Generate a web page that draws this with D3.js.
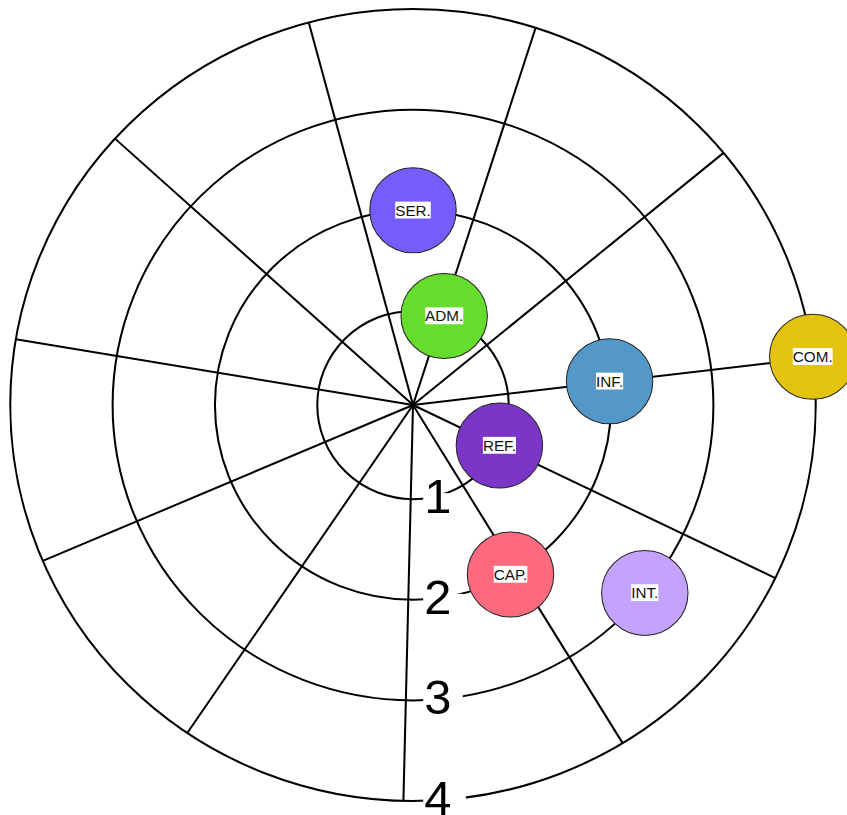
<!DOCTYPE html>
<html>
<head>
<meta charset="utf-8">
<script src="https://cdn.jsdelivr.net/npm/d3@7"></script>
<style>
  html, body { margin: 0; padding: 0; background: #fff; }
  svg { display: block; }
</style>
</head>
<body>
<svg id="chart" width="847" height="815"></svg>
<script>
// ---- data ----
const categories = ["SER.", "ADM.", "INF.", "COM.", "REF.", "CAP.", "INT."];
const levels     = [2, 1, 2, 4, 1, 2, 3];          // radial value
const angles     = [0, 19, 83, 83, 115.5, 150.5, 129.5]; // degrees clockwise from north
const colors     = ["#765cfb", "#66dd2c", "#5398c8", "#e3c30e", "#7b36c8", "#fd6a7e", "#c3a3fd"];
const ringTicks  = [1, 2, 3, 4];
const spokeCount = 11;
const spokeOffset = -15; // degrees

// ---- layout ----
const cx = 413, cy = 405;
const xStretch = 1.017;
const bubbleR = 42.5;

const svg = d3.select("#chart");
const g = svg.append("g").attr("transform", `translate(${cx},${cy}) scale(${xStretch},1)`);

const r = d3.scaleLinear().domain([0, 4]).range([-6.5, 396]);
const a = d3.scaleLinear().domain([0, 360]).range([0, 2 * Math.PI]);

const spokes = d3.range(spokeCount).map(i => spokeOffset + i * 360 / spokeCount);

// rings
g.selectAll("circle.ring")
  .data(ringTicks)
  .join("circle")
  .attr("class", "ring")
  .attr("r", d => r(d))
  .attr("fill", "none")
  .attr("stroke", "#000")
  .attr("stroke-width", 2);

// spokes
g.selectAll("line.spoke")
  .data(spokes)
  .join("line")
  .attr("class", "spoke")
  .attr("x1", 0).attr("y1", 0)
  .attr("x2", d => r(4) * Math.sin(a(d)))
  .attr("y2", d => -r(4) * Math.cos(a(d)))
  .attr("stroke", "#000")
  .attr("stroke-width", 2);

// ring labels
const tickG = g.selectAll("g.tick")
  .data(ringTicks)
  .join("g")
  .attr("class", "tick")
  .attr("transform", d => `translate(11,${r(d)})`);

tickG.append("rect")
  .attr("x", -1).attr("y", -6)
  .attr("width", d => d === 4 ? 42 : 39)
  .attr("height", 12)
  .attr("fill", "#fff");

tickG.append("text")
  .attr("x", 0)
  .attr("y", 14)
  .attr("font-family", "Liberation Sans, Arial, sans-serif")
  .attr("font-size", 48)
  .attr("fill", "#000")
  .text(d => d);

// bubbles
const items = categories.map((c, i) => ({
  name: c, level: levels[i], angle: angles[i], color: colors[i]
}));

const node = g.selectAll("g.node")
  .data(items)
  .join("g")
  .attr("class", "node")
  .attr("transform", d => `translate(${r(d.level) * Math.sin(a(d.angle))},${-r(d.level) * Math.cos(a(d.angle))})`);

node.append("circle")
  .attr("r", bubbleR)
  .attr("fill", d => d.color)
  .attr("stroke", "#222")
  .attr("stroke-width", 1);

const labels = node.append("text")
  .attr("text-anchor", "middle")
  .attr("dy", "0.35em")
  .attr("font-family", "Liberation Sans, Arial, sans-serif")
  .attr("font-size", 15)
  .attr("fill", "#111")
  .text(d => d.name);

labels.each(function() {
  const bb = this.getBBox();
  d3.select(this.parentNode).insert("rect", "text")
    .attr("x", bb.x).attr("y", bb.y)
    .attr("width", bb.width).attr("height", bb.height)
    .attr("fill", "#fff");
});
</script>
</body>
</html>
